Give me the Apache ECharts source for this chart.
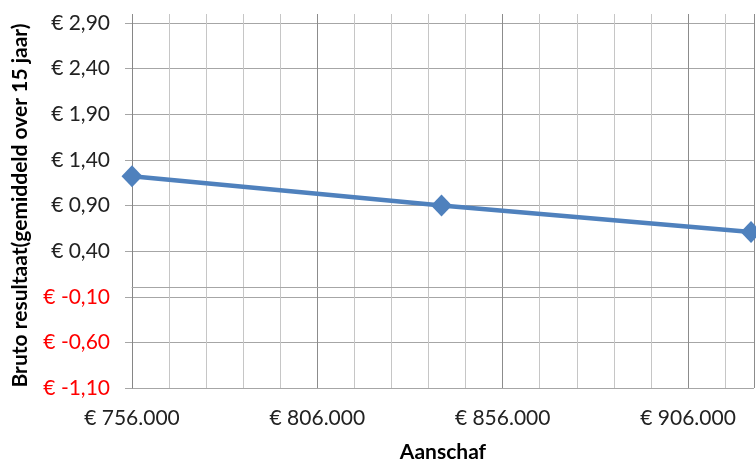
<!DOCTYPE html>
<html>
<head>
<meta charset="utf-8">
<script src="https://cdn.jsdelivr.net/npm/echarts@6/dist/echarts.min.js"></script>
<style>
  html, body { margin: 0; padding: 0; background: #fff; }
  #chart { width: 756px; height: 468px; }
</style>
</head>
<body>
<div id="chart"></div>
<script>
// Purchase price (x) against average gross result over 15 years (y)
const aanschaf = [756000, 839500, 923000];
const brutoResultaat = [1.22, 0.90, 0.61];

const xMin = 756000, xMax = 923800, xStep = 50000;
const yMin = -1.1, yMax = 2.9, yStep = 0.5;

const xTitle = 'Aanschaf';
const yTitle = 'Bruto resultaat(gemiddeld over 15 jaar)';

const FONT = 'Lato';

function euroDecimal(v) {
  return '€ ' + v.toFixed(2).replace('.', ',');
}
function euroThousands(v) {
  return '€ ' + Math.round(v).toString().replace(/\B(?=(\d{3})+(?!\d))/g, '.');
}

const points = aanschaf.map((x, i) => [x, brutoResultaat[i]]);

const chart = echarts.init(document.getElementById('chart'), null, { renderer: 'canvas' });
chart.setOption({
  animation: false,
  backgroundColor: '#ffffff',
  grid: { left: 132, right: 2, top: 23, bottom: 77, containLabel: false },
  xAxis: [
    {
      type: 'value', position: 'bottom',
      min: xMin, max: xMax, interval: xStep,
      name: xTitle, nameLocation: 'middle', nameGap: 54,
      nameTextStyle: { fontFamily: FONT, fontWeight: 'bold', fontSize: 21, color: '#000' },
      axisLine: { show: true, lineStyle: { color: '#a6a6a6', width: 1 } },
      axisTick: { show: false },
      axisLabel: {
        margin: 20, fontFamily: FONT, fontSize: 21, color: '#222',
        formatter: v => euroThousands(v),
        showMaxLabel: false
      },
      splitLine: { show: true, lineStyle: { color: '#8c8c8c', width: 1 } },
      minorTick: { show: false, splitNumber: 5 },
      minorSplitLine: { show: true, lineStyle: { color: '#c6c6c6', width: 1 } }
    },
    {
      // short tick stubs above the plot area
      type: 'value', position: 'top',
      min: xMin, max: xMax, interval: xStep,
      axisLine: { show: false },
      axisLabel: { show: false },
      axisTick: { show: true, length: 9, lineStyle: { color: '#8c8c8c' } },
      minorTick: { show: true, splitNumber: 5, length: 9, lineStyle: { color: '#c6c6c6' } },
      splitLine: { show: false }
    }
  ],
  yAxis: {
    type: 'value',
    min: yMin, max: yMax, interval: yStep,
    name: yTitle, nameLocation: 'middle', nameGap: 101, nameRotate: 90,
    nameTextStyle: { fontFamily: FONT, fontWeight: 'bold', fontSize: 21, color: '#000' },
    axisLine: { show: true, lineStyle: { color: '#868686', width: 1 } },
    axisTick: { show: true, length: 7, lineStyle: { color: '#a6a6a6' } },
    axisLabel: {
      margin: 22, fontFamily: FONT, fontSize: 21,
      formatter: v => euroDecimal(v),
      color: v => (Number(v) < -1e-9 ? '#ff0000' : '#222')
    },
    splitLine: { show: true, lineStyle: { color: '#a6a6a6', width: 1 } }
  },
  series: [{
    type: 'line',
    data: points,
    xAxisIndex: 0,
    symbol: 'diamond',
    symbolSize: [21, 22],
    clip: false,
    lineStyle: { color: '#4f81bd', width: 4.5 },
    itemStyle: { color: '#4f81bd' },
    markLine: {
      silent: true, symbol: 'none', label: { show: false },
      lineStyle: { color: '#a6a6a6', width: 1, type: 'solid' },
      data: [{ yAxis: 0 }]
    }
  }]
});
</script>
</body>
</html>
